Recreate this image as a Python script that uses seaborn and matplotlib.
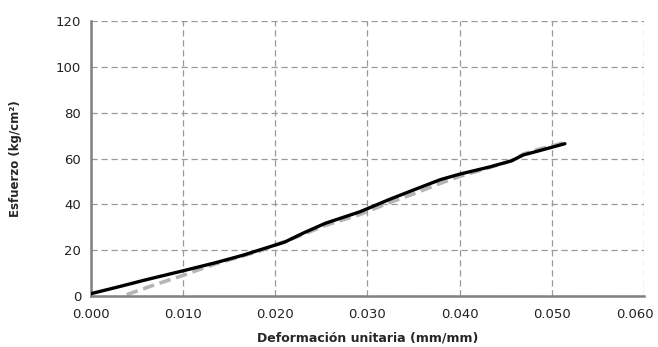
#plot.py - stress vs strain curve (experimental vs model)
import pandas as pd
import matplotlib
matplotlib.use('Agg')
import matplotlib.pyplot as plt
import matplotlib.transforms as mtransforms
import seaborn as sns

# data
strain_exp = [0.000, 0.003, 0.006, 0.010, 0.0135, 0.0165, 0.0183, 0.021, 0.023,
              0.0254, 0.0292, 0.0324, 0.035, 0.0379, 0.040, 0.0433, 0.0456,
              0.0469, 0.0485, 0.0514]
stress_exp = [1.0, 4.0, 7.1, 11.0, 14.5, 17.8, 20.1, 23.5, 27.4,
              31.7, 36.8, 42.2, 46.3, 50.8, 53.2, 56.4, 59.0,
              61.6, 63.3, 66.5]

strain_mod = [0.0039, 0.007, 0.010, 0.012, 0.0135, 0.0183, 0.023, 0.0254, 0.0292,
              0.0324, 0.035, 0.0379, 0.040, 0.0433, 0.0456, 0.0469, 0.0485, 0.0514]
stress_mod = [0.6, 5.0, 9.0, 11.9, 14.0, 19.6, 26.8, 30.8, 35.6,
              40.8, 44.6, 49.2, 52.2, 56.2, 59.0, 62.0, 64.0, 67.0]

x_ticks = [0.000, 0.010, 0.020, 0.030, 0.040, 0.050, 0.060]
y_ticks = [0, 20, 40, 60, 80, 100, 120]

df_exp = pd.DataFrame({'strain': strain_exp, 'stress': stress_exp})
df_mod = pd.DataFrame({'strain': strain_mod, 'stress': stress_mod})

sns.set_style('white')
plt.rcParams['font.family'] = ['DejaVu Sans']

fig = plt.figure(figsize=(6.58, 3.47), dpi=100)
ax = fig.add_axes([0.138, 0.147, 0.841, 0.792])

sns.lineplot(data=df_mod, x='strain', y='stress', ax=ax, color='#b5b5b5',
             linewidth=2.6, sort=False, zorder=2)
ax.lines[-1].set_dashes([3.2, 1.6])
sns.lineplot(data=df_exp, x='strain', y='stress', ax=ax, color='black',
             linewidth=2.4, sort=False, zorder=3)

ax.set_xlim(0, 0.060)
ax.set_ylim(0, 120)
ax.set_xticks(x_ticks)
ax.set_yticks(y_ticks)
ax.set_xticklabels([f'{v:.3f}' for v in x_ticks], fontsize=9.5, color='#222222')
ax.set_yticklabels([str(v) for v in y_ticks], fontsize=9.5, color='#222222')
ax.tick_params(axis='x', length=0, pad=9)
ax.tick_params(axis='y', length=0, pad=7)

# last x label is pulled in so it stays inside the picture
last = ax.get_xticklabels()[-1]
last.set_transform(last.get_transform() +
                   mtransforms.ScaledTranslation(-7 / 72, 0, fig.dpi_scale_trans))

ax.grid(True, linestyle=(0, (5, 3)), color='#999999', linewidth=0.9)
ax.set_axisbelow(True)
for s in ['top', 'right']:
    ax.spines[s].set_visible(False)
for s in ['left', 'bottom']:
    ax.spines[s].set_color('#808080')
    ax.spines[s].set_linewidth(1.8)

ax.set_xlabel('Deformación unitaria (mm/mm)', fontsize=9, fontweight='bold', labelpad=7.5)
ax.set_ylabel('Esfuerzo (kg/cm²)', fontsize=8.5, fontweight='bold', labelpad=24)

plt.savefig('out.png', dpi=100)
